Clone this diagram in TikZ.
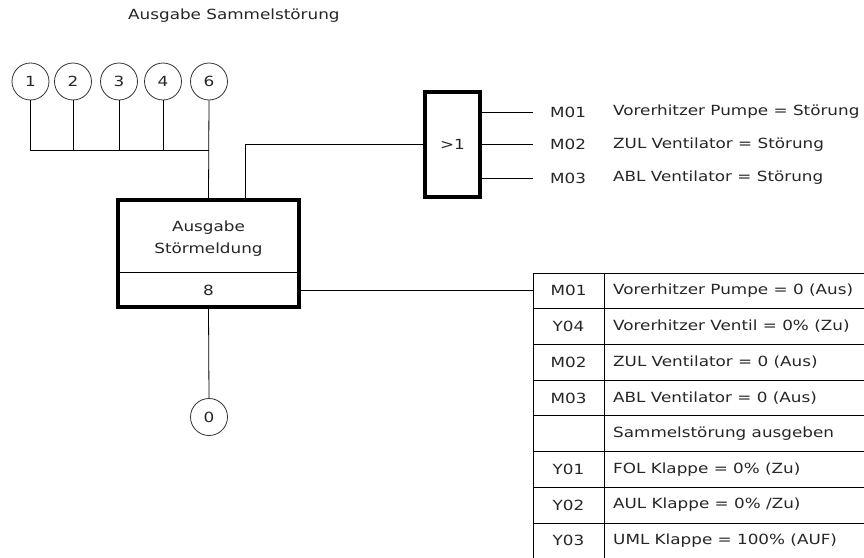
\documentclass[tikz,border=0pt]{standalone}
\usepackage{fontspec}
\setmainfont{DejaVu Sans}[FakeStretch=1.2]
\begin{document}
\begin{tikzpicture}[x=1pt,y=-1pt,
  txt/.style={font=\fontsize{14}{16}\selectfont, text=black!85, inner sep=0pt},
  sig/.style={circle, draw=black!80, line width=0.8pt, minimum size=37pt, inner sep=0pt, txt},
  wire/.style={draw=black, line width=0.8pt},
  thickbox/.style={draw=black, line width=4pt, inner sep=0pt},
  cellk/.style={draw=black, line width=0.8pt, minimum width=71pt, minimum height=35.7pt, inner sep=0pt},
  cellt/.style={draw=black, line width=0.8pt, minimum width=290pt, minimum height=35.7pt, inner sep=0pt}]
\useasboundingbox (0,0) rectangle (864,557);
\clip (0,0) rectangle (864,557);
\fill[white] (0,0) rectangle (864,557);

\node[txt, anchor=west] (title) at (128,16) {Ausgabe Sammelstörung};

% input circles
\node[sig] (c1) at (30.5,81.5) {1};
\node[sig] (c2) at (73,81.5) {2};
\node[sig] (c3) at (119,81.5) {3};
\node[sig] (c4) at (163,81.5) {4};
\node[sig] (c6) at (209,81.5) {6};
\coordinate (bus) at (209,150);

% main box
\node[thickbox, minimum width=181pt, minimum height=107pt] (box) at (208.5,253.5) {};
\coordinate (divl) at (118,272);
\coordinate (divr) at (299,272);
\draw[wire] (divl) -- (divr);
\node[txt] (boxt1) at (208.5,228) {Ausgabe};
\node[txt] (boxt2) at (208.5,250) {Störmeldung};
\node[txt] (boxn) at (208.5,290) {8};

% wires from circles
\draw[wire] (c1.south) |- (bus);
\draw[wire] (c2.south) -- (c2.south |- bus);
\draw[wire] (c3.south) -- (c3.south |- bus);
\draw[wire] (c4.south) -- (c4.south |- bus);
\draw[wire] (c6.south) -- (box.north);

% output circle
\node[sig] (c0) at (209,417) {0};
\draw[wire] (box.south) -- (c0.north);

% OR gate
\node[thickbox, minimum width=55pt, minimum height=105pt] (gate) at (452.5,144.5) {};
\node[txt] (gatet) at (452.5,144.5) {>1};
\coordinate (gin) at (245,200);
\draw[wire] (gin) |- (gate.west);

\foreach \i/\y/\m/\t in {1/112/M01/{Vorerhitzer Pumpe = Störung},
                          2/144.5/M02/{ZUL Ventilator = Störung},
                          3/178/M03/{ABL Ventilator = Störung}} {
  \coordinate (go\i) at (480,\y);
  \coordinate (ge\i) at (533,\y);
  \draw[wire] (go\i) -- (ge\i);
  \node[txt] (gm\i) at (568,\y) {\m};
  \node[txt, anchor=west] (gl\i) at (613,\y) {\t};
}

% table
\foreach \i/\m/\t in {1/M01/{Vorerhitzer Pumpe = 0 (Aus)},
                      2/Y04/{Vorerhitzer Ventil = 0\% (Zu)},
                      3/M02/{ZUL Ventilator = 0 (Aus)},
                      4/M03/{ABL Ventilator = 0 (Aus)},
                      5//{Sammelstörung ausgeben},
                      6/Y01/{FOL Klappe = 0\% (Zu)},
                      7/Y02/{AUL Klappe = 0\% /Zu)},
                      8/Y03/{UML Klappe = 100\% (AUF)}} {
  \pgfmathsetmacro{\yy}{273+35.7*(\i-0.5)}
  \node[cellk] (k\i) at (568.5,\yy) {};
  \node[cellt, anchor=west] (t\i) at (604,\yy) {};
  \node[txt] (km\i) at (568.5,\yy) {\m};
  \node[txt, anchor=west] (tt\i) at (613,\yy) {\t};
}
\draw[wire] (box.east |- k1.west) -- (k1.west);
\end{tikzpicture}
\end{document}
